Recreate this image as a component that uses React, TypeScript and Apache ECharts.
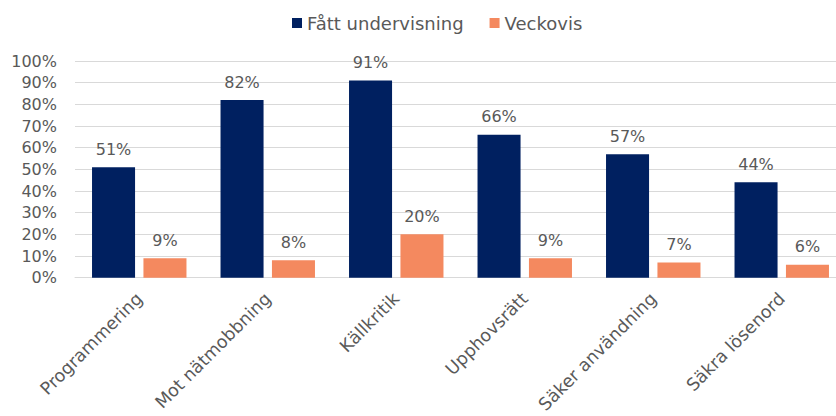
import React, { useEffect, useRef } from "react";
import * as echarts from "echarts";

const categories = ["Programmering", "Mot nätmobbning", "Källkritik", "Upphovsrätt", "Säker användning", "Säkra lösenord"];
const fattUndervisning = [51, 82, 91, 66, 57, 44];
const veckovis = [9, 8, 20, 9, 7, 6];
const seriesNames = ["Fått undervisning", "Veckovis"];

export default function App() {
  const ref = useRef<HTMLDivElement>(null);
  useEffect(() => {
    if (!ref.current) return;
    const chart = echarts.init(ref.current, undefined, { renderer: "svg" });
    const font = "DejaVu Sans";
    const labelCfg = {
      show: true,
      position: "top" as const,
      formatter: "{c}%",
      color: "#595959",
      fontSize: 16,
      fontFamily: font,
      distance: 10,
    };
    chart.setOption({
      animation: false,
      textStyle: { fontFamily: font },
      legend: {
        top: 9,
        left: 287,
        itemWidth: 10,
        itemHeight: 10,
        itemGap: 26,
        icon: "rect",
        textStyle: { color: "#595959", fontSize: 18, fontFamily: font },
        data: seriesNames,
      },
      grid: { left: 75, right: 0, top: 61, bottom: 138, containLabel: false },
      xAxis: {
        type: "category",
        data: categories,
        axisLine: { lineStyle: { color: "#D9D9D9", width: 1 } },
        axisTick: { show: false },
        axisLabel: {
          rotate: 45,
          color: "#595959",
          fontSize: 17.5,
          fontFamily: font,
          margin: 18,
          interval: 0,
        },
      },
      yAxis: {
        type: "value",
        min: 0,
        max: 100,
        interval: 10,
        axisLine: { show: false },
        axisTick: { show: false },
        splitLine: { lineStyle: { color: "#D9D9D9", width: 1 } },
        axisLabel: {
          formatter: "{value}%",
          color: "#595959",
          fontSize: 16,
          fontFamily: font,
          margin: 18,
        },
      },
      series: [
        {
          name: seriesNames[0],
          type: "bar",
          data: fattUndervisning,
          itemStyle: { color: "#002060" },
          barGap: "19.5%",
          barCategoryGap: "26.5%",
          label: labelCfg,
        },
        {
          name: seriesNames[1],
          type: "bar",
          data: veckovis,
          itemStyle: { color: "#F4895F" },
          label: labelCfg,
        },
      ],
    });
    return () => chart.dispose();
  }, []);
  return (
    <div style={{ position: "absolute", left: 0, top: 0, width: 836, height: 416, overflow: "hidden" }}>
      <div ref={ref} style={{ width: 846, height: 416 }} />
    </div>
  );
}
